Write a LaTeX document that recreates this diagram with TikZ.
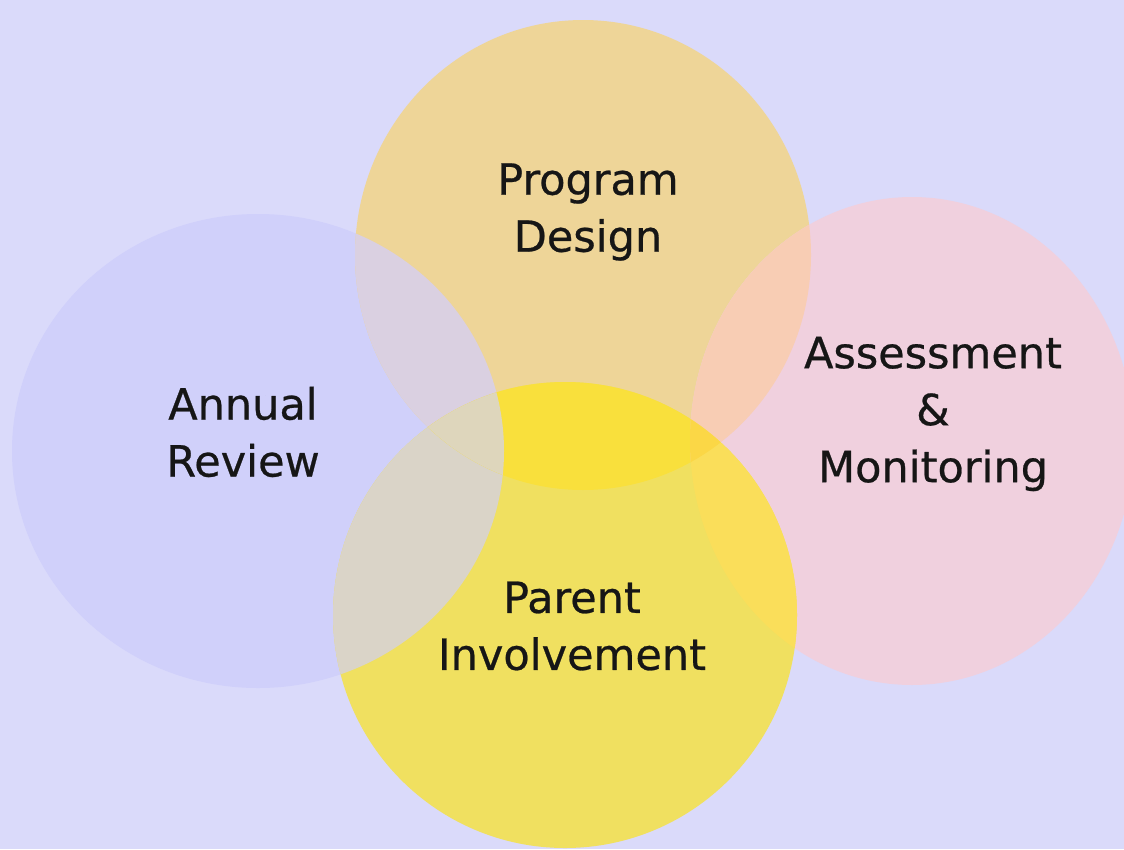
\documentclass[tikz,border=0pt]{standalone}
\usepackage{fontspec}
\setmainfont{DejaVu Sans}[FakeBold=0.6]
\definecolor{bgc}{RGB}{218,218,250}
\definecolor{cA}{RGB}{208,208,250}
\definecolor{cP}{RGB}{238,213,152}
\definecolor{cM}{RGB}{240,208,222}
\definecolor{cV}{RGB}{240,224,96}
\definecolor{cAP}{RGB}{218,208,225}
\definecolor{cPV}{RGB}{249,224,60}
\definecolor{cPM}{RGB}{248,205,180}
\definecolor{cVM}{RGB}{250,222,90}
\definecolor{cAV}{RGB}{218,212,200}
\definecolor{cAPV}{RGB}{222,214,188}
\definecolor{cPVM}{RGB}{251,215,70}
\definecolor{txt}{RGB}{22,22,22}
\tikzset{lbl/.style={align=center,text=txt,font=\fontsize{43}{57}\selectfont}}
\newcommand{\ellA}{(258,451) ellipse [x radius=246, y radius=237]}
\newcommand{\ellP}{(583,255) ellipse [x radius=228, y radius=235]}
\newcommand{\ellM}{(912,441) ellipse [x radius=222, y radius=244]}
\newcommand{\ellV}{(565,615) ellipse [x radius=232, y radius=233]}
\begin{document}
\begin{tikzpicture}[x=1pt,y=-1pt]
\fill[bgc] (0,0) rectangle (1124,849);
\useasboundingbox (0,0) rectangle (1124,849);
\fill[cA] \ellA;
\fill[cP] \ellP;
\fill[cM] \ellM;
\fill[cV] \ellV;
\begin{scope}\clip \ellA; \fill[cAP] \ellP; \end{scope}
\begin{scope}\clip \ellA; \fill[cAV] \ellV; \end{scope}
\begin{scope}\clip \ellP; \fill[cPV] \ellV; \end{scope}
\begin{scope}\clip \ellP; \fill[cPM] \ellM; \end{scope}
\begin{scope}\clip \ellV; \fill[cVM] \ellM; \end{scope}
\begin{scope}\clip \ellA; \clip \ellP; \fill[cAPV] \ellV; \end{scope}
\begin{scope}\clip \ellP; \clip \ellV; \fill[cPVM] \ellM; \end{scope}
\node[lbl] (pd) at (588,212) {Program\\Design};
\node[lbl] (ar) at (243,432) {Annual\\Review};
\node[lbl] (am) at (933,414) {Assessment\\\&\\Monitoring};
\node[lbl] (pi) at (572,626) {Parent\\Involvement};
\end{tikzpicture}
\end{document}
